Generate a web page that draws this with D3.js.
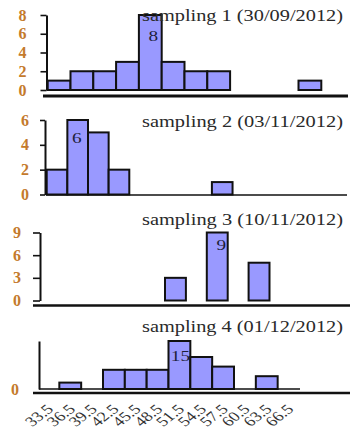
<!DOCTYPE html>
<html>
<head>
<meta charset="utf-8">
<script src="https://cdn.jsdelivr.net/npm/d3@7"></script>
<style>
  body { margin: 0; background: #fff; }
  text { font-family: "Liberation Serif", "DejaVu Serif", serif; }
</style>
</head>
<body>
<svg id="container"></svg>
<script>
/* CONSTANTS AND GLOBALS */
const width = 352,
  height = 432,
  sx = 1.28; // the original picture is stretched sideways

/* DATA */
const binStarts = [33.5, 36.5, 39.5, 42.5, 45.5, 48.5, 51.5, 54.5, 57.5, 60.5, 63.5, 66.5];
const binWidth = 3;
const titles = [
  "sampling 1 (30/09/2012)",
  "sampling 2 (03/11/2012)",
  "sampling 3 (10/11/2012)",
  "sampling 4 (01/12/2012)"
];
const sampling1 = [1, 2, 2, 3, 8, 3, 2, 2, 0, 0, 0, 1];
const sampling2 = [2, 6, 5, 2, 0, 0, 0, 0, 1, 0, 0, 0];
const sampling3 = [0, 0, 0, 0, 0, 0, 3, 0, 9, 0, 5, 0];
const sampling4 = [0, 2, 0, 6, 6, 6, 15, 10, 7, 0, 4, 0];
const yTicks = [[0, 2, 4, 6, 8], [0, 2, 4, 6], [0, 3, 6, 9], [0]];
const yMax = [8, 6, 9, 15];
const series = [sampling1, sampling2, sampling3, sampling4];

/* LAYOUT (one entry per panel) */
const panels = [
  { x0: 47.7, x1: 321.3, yBase: 90, yTop: 15, axisX: 46.5, tick: 6, pad: 14, titleY: 21,
    labDx: 3, labDy: 26, thin: null, thick: { y: 96, x0: 43, x1: 348, w: 3 } },
  { x0: 46.7, x1: 294.5, yBase: 194.5, yTop: 120, axisX: 45, tick: 5, pad: 11, titleY: 127,
    labDx: -1, labDy: 23, thin: { y: 195, x0: 46, x1: 347, w: 1.6 }, thick: null },
  { x0: 39.6, x1: 290.4, yBase: 300.5, yTop: 232.5, axisX: 40, tick: 7, pad: 12, titleY: 225,
    labDx: 4, labDy: 17, thin: null, thick: { y: 305.5, x0: 33, x1: 350, w: 2.6 } },
  { x0: 37.5, x1: 299.5, yBase: 389, yTop: 341, axisX: 39, tick: 0, pad: 20, titleY: 332,
    labDx: 1, labDy: 20, thin: { y: 389, x0: 39, x1: 300, w: 1.6 }, thick: { y: 393, x0: 33, x1: 350, w: 2.6 } }
];

const svg = d3.select("#container")
  .attr("width", width)
  .attr("height", height);

svg.append("rect").attr("width", width).attr("height", height).attr("fill", "#fff");

panels.forEach((p, i) => {
  const values = series[i];
  const g = svg.append("g");

  /* SCALES */
  const xScale = d3.scaleLinear()
    .domain([binStarts[0], binStarts[binStarts.length - 1] + binWidth])
    .range([p.x0, p.x1]);
  const yScale = d3.scaleLinear()
    .domain([0, yMax[i]])
    .range([p.yBase, p.yTop]);

  // baselines
  if (p.thin) {
    g.append("line")
      .attr("x1", p.thin.x0).attr("x2", p.thin.x1)
      .attr("y1", p.thin.y).attr("y2", p.thin.y)
      .attr("stroke", "#111").attr("stroke-width", p.thin.w);
  }
  if (p.thick) {
    g.append("line")
      .attr("x1", p.thick.x0).attr("x2", p.thick.x1)
      .attr("y1", p.thick.y).attr("y2", p.thick.y)
      .attr("stroke", "#111").attr("stroke-width", p.thick.w);
  }

  // bars
  const bars = values.map((v, k) => ({ start: binStarts[k], v }));
  g.selectAll("rect.bar")
    .data(bars.filter(d => d.v > 0))
    .join("rect")
    .attr("class", "bar")
    .attr("x", d => xScale(d.start))
    .attr("width", d => xScale(d.start + binWidth) - xScale(d.start))
    .attr("y", d => yScale(d.v))
    .attr("height", d => yScale(0) - yScale(d.v))
    .attr("fill", "#9999ff")
    .attr("stroke", "#111")
    .attr("stroke-width", 2);

  // value label on the tallest bar
  const peak = bars.reduce((a, b) => (b.v > a.v ? b : a));
  const cx = (xScale(peak.start) + xScale(peak.start + binWidth)) / 2 + p.labDx;
  g.append("text")
    .attr("transform", `translate(${cx},${yScale(peak.v) + p.labDy}) scale(${sx},1)`)
    .attr("text-anchor", "middle")
    .attr("font-size", 15)
    .attr("fill", "#1e1e3a")
    .text(peak.v);

  // y axis
  const yAxis = d3.axisLeft(yScale)
    .tickValues(yTicks[i])
    .tickFormat(d3.format("d"))
    .tickSize(p.tick)
    .tickSizeOuter(0)
    .tickPadding(p.pad);
  const ax = g.append("g")
    .attr("transform", `translate(${p.axisX},0)`)
    .call(yAxis);
  ax.select(".domain").attr("stroke", "#111").attr("stroke-width", 2);
  ax.selectAll(".tick line").attr("stroke", "#111").attr("stroke-width", 1.6);
  ax.selectAll(".tick text")
    .attr("font-family", "Liberation Serif, serif")
    .attr("font-size", 16)
    .attr("font-weight", "bold")
    .attr("fill", "#c47a2c");

  // title
  g.append("text")
    .attr("x", 343)
    .attr("y", p.titleY)
    .attr("text-anchor", "end")
    .attr("font-size", 16)
    .attr("fill", "#2a2a2a")
    .attr("textLength", 201)
    .attr("lengthAdjust", "spacingAndGlyphs")
    .text(titles[i]);

  // x labels under the last panel
  if (i === panels.length - 1) {
    g.selectAll("text.xlab")
      .data(binStarts)
      .join("text")
      .attr("class", "xlab")
      .attr("transform", d => `translate(${xScale(d) + 8},${p.thick.y + 10}) scale(${sx},1) rotate(-45)`)
      .attr("text-anchor", "end")
      .attr("dy", "0.7em")
      .attr("font-size", 14)
      .attr("fill", "#333")
      .text(d => d);
  }
});
</script>
</body>
</html>
